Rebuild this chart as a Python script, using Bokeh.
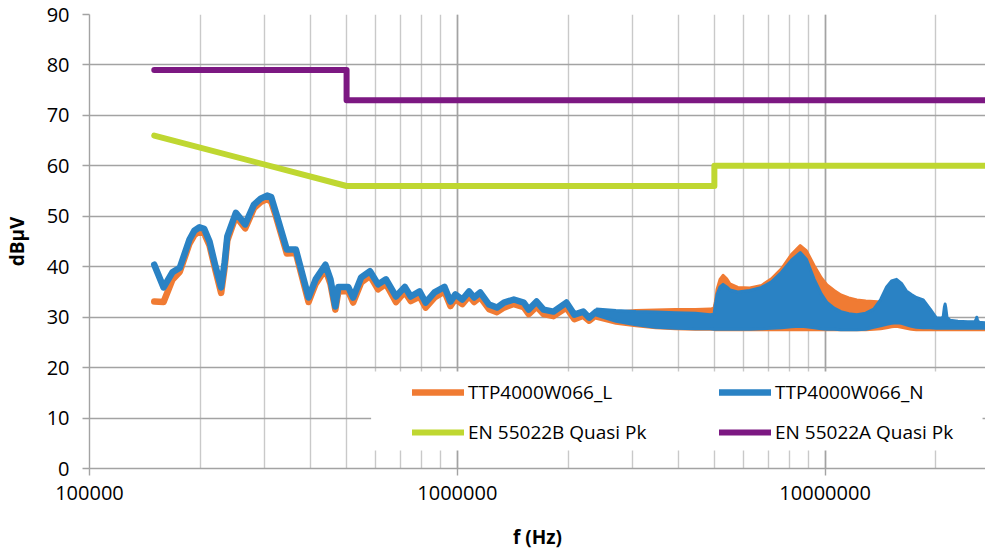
import numpy as np
from bokeh.plotting import figure
from bokeh.models import (Range1d, LogTicker, PrintfTickFormatter, Legend, LegendItem,
                          BoxAnnotation, SingleIntervalTicker)
from bokeh.embed import file_html
from bokeh.resources import INLINE

# ---------------- data ----------------
# low-frequency part of the conducted-emission scans (kHz, dBuV)
lf_freq_khz = [150, 159, 168, 176, 187, 193, 199, 205, 212, 220, 228, 233, 237, 250, 265, 280,
               292, 304, 312, 321, 344, 364, 394, 412, 438, 452, 466, 475, 505, 521, 548, 579,
               609, 640, 681, 720, 747, 790, 820, 867, 923, 958, 988, 1032, 1077, 1111, 1154,
               1220, 1282, 1339, 1425, 1516, 1564, 1643, 1716, 1826, 1980, 2081, 2200, 2283, 2385]
lf_N = [40.4, 35.9, 38.9, 39.8, 45.4, 47.2, 47.8, 47.5, 45.0, 40.1, 35.9, 40.8, 46.0, 50.7, 48.4, 52.3,
        53.5, 54.1, 53.8, 50.8, 43.4, 43.4, 33.9, 37.5, 40.4, 37.5, 32.1, 36.0, 36.0, 33.9, 37.9, 39.1,
        36.5, 37.5, 34.1, 36.0, 34.1, 35.1, 32.9, 34.9, 36.0, 33.1, 34.5, 33.5, 35.1, 33.9, 34.9,
        32.5, 31.9, 32.9, 33.5, 32.9, 31.5, 33.1, 31.5, 31.1, 32.9, 30.5, 31.1, 29.9, 31.1]
lf_L = [33.1, 33.0, 37.4, 39.0, 44.6, 46.3, 47.0, 46.6, 44.2, 39.3, 34.8, 39.8, 45.2, 50.0, 47.6, 51.6,
        52.8, 53.4, 52.9, 50.1, 42.6, 42.7, 33.0, 36.6, 39.5, 36.6, 31.5, 35.1, 35.2, 32.9, 36.9, 38.2,
        35.5, 36.6, 33.0, 35.0, 33.2, 34.1, 31.9, 33.9, 35.1, 32.2, 33.6, 32.6, 34.2, 33.0, 34.0,
        31.6, 31.0, 31.9, 32.6, 32.0, 30.6, 32.1, 30.6, 30.2, 31.9, 29.6, 30.3, 29.3, 30.4]

# high-frequency part: envelope (max / min) of the dense scans (MHz, dBuV)
hf_freq_mhz = [2.385, 2.70, 3.06, 3.46, 3.92, 4.44, 4.87, 4.99, 5.03, 5.085, 5.18, 5.28, 5.40, 5.51,
               5.79, 6.24, 6.72, 7.15, 7.61, 8.10, 8.56, 8.89, 9.34, 9.76, 10.12, 10.58, 11.04, 11.60,
               12.20, 12.90, 13.56, 14.16, 14.70, 15.16, 15.64, 16.13, 16.63, 17.16, 17.70, 18.49,
               19.31, 20.04, 20.68, 20.94, 21.10, 21.20, 21.30, 21.46, 21.86, 22.97, 24.44, 25.53,
               25.75, 25.85, 25.95, 26.17, 27.16, 30.0]
hf_N_max = [31.6, 31.3, 31.1, 31.0, 30.9, 30.8, 30.5, 30.6, 32.5, 34.5, 36.0, 36.5, 36.0, 35.4,
            35.0, 35.3, 35.9, 37.0, 38.9, 41.3, 42.8, 41.5, 37.5, 34.6, 32.9, 31.8, 31.1, 30.7,
            30.5, 30.8, 31.6, 33.5, 36.0, 37.2, 37.5, 36.7, 35.2, 34.5, 33.9, 33.4,
            31.6, 29.9, 29.8, 30.0, 32.0, 32.6, 31.8, 29.9, 29.4, 29.2, 29.1, 29.1,
            29.6, 30.0, 29.5, 29.0, 28.9, 28.7]
hf_N_min = [30.4, 29.2, 28.5, 28.0, 27.8, 27.7, 27.7, 27.6, 27.6, 27.6, 27.6, 27.6, 27.6, 27.6,
            27.6, 27.6, 27.7, 27.8, 27.9, 28.1, 28.2, 28.1, 27.9, 27.7, 27.6, 27.6, 27.5, 27.5,
            27.5, 27.6, 28.0, 28.3, 28.6, 28.8, 28.9, 28.8, 28.5, 28.2, 28.0, 27.9,
            27.9, 27.8, 27.8, 27.8, 27.8, 27.8, 27.8, 27.8, 27.8, 27.8, 27.8, 27.8,
            27.8, 27.8, 27.8, 27.8, 27.8, 27.8]
hf_L_max = [30.9, 31.0, 31.3, 31.4, 31.5, 31.5, 31.6, 31.8, 33.0, 35.5, 37.5, 38.3, 37.6, 36.6,
            35.9, 35.8, 36.3, 37.6, 39.6, 42.4, 44.2, 43.2, 40.2, 37.8, 36.4, 35.3, 34.4, 33.8,
            33.4, 33.2, 33.1, 33.0, 32.7, 32.4, 32.2, 31.9, 31.7, 31.5, 31.3, 31.0,
            30.5, 29.6, 29.4, 29.3, 29.3, 29.3, 29.3, 29.2, 29.1, 29.0, 28.9, 28.8,
            28.8, 28.8, 28.8, 28.7, 28.6, 28.4]
hf_L_min = [29.8, 28.8, 28.3, 27.9, 27.7, 27.6, 27.6, 27.6, 27.5, 27.5, 27.5, 27.5, 27.5, 27.5,
            27.5, 27.5, 27.5, 27.5, 27.5, 27.5, 27.5, 27.5, 27.5, 27.5, 27.5, 27.5, 27.5, 27.5,
            27.5, 27.5, 27.6, 27.7, 27.9, 28.1, 28.2, 28.0, 27.8, 27.6, 27.5, 27.5,
            27.5, 27.5, 27.5, 27.5, 27.5, 27.5, 27.5, 27.5, 27.5, 27.5, 27.5, 27.5,
            27.5, 27.5, 27.5, 27.5, 27.5, 27.5]

# limit lines (Hz, dBuV)
limA_freq = [150e3, 500e3, 500e3, 30e6]
limA_val = [79, 79, 73, 73]
limB_freq = [150e3, 500e3, 5e6, 5e6, 30e6]
limB_val = [66, 56, 56, 60, 60]

series_names = ["TTP4000W066_L", "TTP4000W066_N", "EN 55022B Quasi Pk", "EN 55022A Quasi Pk"]
y_ticks_step = 10

C_L = "#F07B33"
C_N = "#2A82C4"
C_B = "#BFD731"
C_A = "#7C1882"
FONT = "Open Sans"

lf_f = np.array(lf_freq_khz) * 1e3
hf_f = np.array(hf_freq_mhz) * 1e6

# ---------------- figure ----------------
p = figure(width=985, height=552, x_axis_type="log",
           x_range=Range1d(1e5, 2.73e7), y_range=Range1d(0, 90),
           output_backend="svg", toolbar_location=None,
           min_border_left=81, min_border_right=0, min_border_top=14, min_border_bottom=84)
p.outline_line_color = None
p.background_fill_color = "white"
p.border_fill_color = "white"

p.xaxis.ticker = LogTicker(num_minor_ticks=10, mantissas=[1])
p.xaxis.formatter = PrintfTickFormatter(format="%d")
p.yaxis.ticker = SingleIntervalTicker(interval=y_ticks_step, num_minor_ticks=0)

p.xgrid.grid_line_color = "#a3a3a3"
p.xgrid.grid_line_width = 1.6
p.xgrid.minor_grid_line_color = "#c9c9c9"
p.xgrid.minor_grid_line_width = 1.4
p.ygrid.grid_line_color = "#a3a3a3"
p.ygrid.grid_line_width = 1.4

for ax in (p.xaxis, p.yaxis):
    ax.axis_line_color = "#a3a3a3"
    ax.axis_line_width = 1.4
    ax.major_tick_line_color = "#a3a3a3"
    ax.major_tick_line_width = 1.4
    ax.major_tick_out = 7
    ax.major_tick_in = 0
    ax.minor_tick_line_color = None
    ax.major_label_text_font = FONT
    ax.major_label_text_font_size = "20px"
    ax.major_label_text_color = "#000000"
    ax.axis_label_text_font = FONT
    ax.axis_label_text_font_size = "19px"
    ax.axis_label_text_font_style = "bold"
    ax.axis_label_text_color = "#000000"

p.xaxis.axis_label = "f (Hz)"
p.yaxis.axis_label = "dBµV"
p.xaxis.major_label_standoff = 10
p.xaxis.axis_label_standoff = 21
p.yaxis.major_label_standoff = 13
p.yaxis.axis_label_standoff = 14

# legend background
p.add_layout(BoxAnnotation(left=5.83e5, right=2.68e7, bottom=3.57, top=19.23,
                           fill_color="white", fill_alpha=1.0, line_color=None))

# ---------------- traces ----------------
rL = p.line(lf_f, lf_L, line_color=C_L, line_width=6.5, line_cap="round", line_join="round")
p.varea(x=hf_f, y1=hf_L_min, y2=hf_L_max, fill_color=C_L)
p.line(hf_f, hf_L_max, line_color=C_L, line_width=3, line_join="round")
p.line(hf_f, hf_L_min, line_color=C_L, line_width=3, line_join="round")

rN = p.line(lf_f, lf_N, line_color=C_N, line_width=6.5, line_cap="round", line_join="round")
p.varea(x=hf_f, y1=hf_N_min, y2=hf_N_max, fill_color=C_N)
p.line(hf_f, hf_N_max, line_color=C_N, line_width=3, line_join="round")
p.line(hf_f, hf_N_min, line_color=C_N, line_width=3, line_join="round")

rB = p.line(limB_freq, limB_val, line_color=C_B, line_width=6, line_cap="round", line_join="round")
rA = p.line(limA_freq, limA_val, line_color=C_A, line_width=6, line_cap="round", line_join="round")

def make_legend(items, vx):
    lg = Legend(items=items, location=(vx, 23), orientation="vertical",
                padding=0, margin=0, spacing=14, glyph_width=52, glyph_height=20,
                label_height=20, label_standoff=4,
                border_line_color=None, background_fill_alpha=0,
                label_text_font=FONT, label_text_font_size="19px", label_text_color="#000000")
    return lg

leg1 = make_legend([LegendItem(label=series_names[0], renderers=[rL]),
                    LegendItem(label=series_names[2], renderers=[rB])], 323)
leg2 = make_legend([LegendItem(label=series_names[1], renderers=[rN]),
                    LegendItem(label=series_names[3], renderers=[rA])], 630)
p.add_layout(leg1, "center")
p.add_layout(leg2, "center")

open("out.html", "w").write(file_html(p, INLINE))
